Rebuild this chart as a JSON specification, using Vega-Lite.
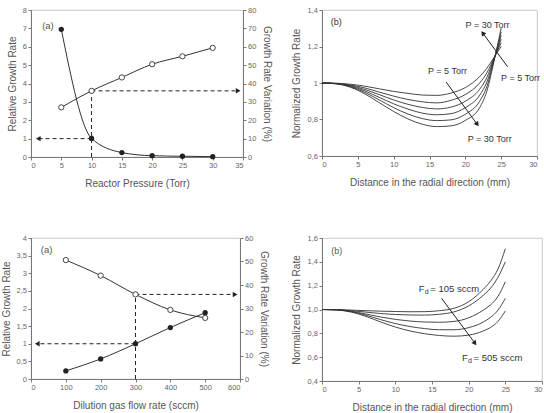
{
  "$schema": "https://vega.github.io/schema/vega-lite/v6.json",
  "background": "white",
  "padding": {"left": 0, "top": 5, "right": 2, "bottom": 2},
  "config": {
    "view": {"stroke": "#bbb", "strokeWidth": 0.8},
    "axis": {"labelFont": "Liberation Sans", "labelFontSize": 7.5, "labelColor": "#666", "titleFont": "Liberation Sans", "titleFontSize": 10, "titleFontWeight": "normal", "titleColor": "#555", "domainColor": "#777", "tickColor": "#777", "tickSize": 3, "grid": false, "labelPadding": 1.5},
    "text": {"font": "Liberation Sans"}
  },
  "datasets": {
    "p1L": [
      {"x": 5, "y": 6.95}, {"x": 10, "y": 1.01}, {"x": 15, "y": 0.24}, {"x": 20, "y": 0.07}, {"x": 25, "y": 0.04}, {"x": 30, "y": 0.02}
    ],
    "p1R": [
      {"x": 5, "y": 27.0}, {"x": 10, "y": 36.0}, {"x": 15, "y": 43.3}, {"x": 20, "y": 50.5}, {"x": 25, "y": 54.8}, {"x": 30, "y": 59.4}
    ],
    "p1dash": [
      {"x": 10, "y": 0, "x2": 10, "y2": 3.6},
      {"x": 10, "y": 3.6, "x2": 34.0, "y2": 3.6},
      {"x": 10, "y": 1, "x2": 1.2, "y2": 1}
    ],
    "p1arrow": [
      {"x": 34.2, "y": 3.6, "dir": "right"},
      {"x": 1.2, "y": 1, "dir": "left"}
    ],
    "p1text": [{"x": 2.8, "y": 7.15, "label": "(a)"}],
    "p3L": [
      {"x": 100, "y": 0.23}, {"x": 200, "y": 0.57}, {"x": 300, "y": 1.0}, {"x": 400, "y": 1.46}, {"x": 500, "y": 1.88}
    ],
    "p3R": [
      {"x": 100, "y": 50.6}, {"x": 200, "y": 44.0}, {"x": 300, "y": 36.0}, {"x": 400, "y": 29.4}, {"x": 500, "y": 26.0}
    ],
    "p3dash": [
      {"x": 300, "y": 0, "x2": 300, "y2": 2.4},
      {"x": 300, "y": 2.4, "x2": 582, "y2": 2.4},
      {"x": 300, "y": 1, "x2": 20, "y2": 1}
    ],
    "p3arrow": [
      {"x": 586, "y": 2.4, "dir": "right"},
      {"x": 18, "y": 1, "dir": "left"}
    ],
    "p3text": [{"x": 45, "y": 3.65, "label": "(a)"}],
    "p2": [
      {"x": 0, "y": 1, "s": "5"}, {"x": 2, "y": 0.9986, "s": "5"}, {"x": 4, "y": 0.993, "s": "5"}, {"x": 6, "y": 0.9825, "s": "5"}, {"x": 8, "y": 0.968, "s": "5"}, {"x": 10, "y": 0.954, "s": "5"}, {"x": 12, "y": 0.943, "s": "5"}, {"x": 14, "y": 0.934, "s": "5"}, {"x": 16, "y": 0.932, "s": "5"}, {"x": 18, "y": 0.945, "s": "5"}, {"x": 20, "y": 0.975, "s": "5"}, {"x": 22, "y": 1.035, "s": "5"}, {"x": 23, "y": 1.08, "s": "5"}, {"x": 24, "y": 1.14, "s": "5"}, {"x": 25, "y": 1.2, "s": "5"},
      {"x": 0, "y": 1, "s": "10"}, {"x": 2, "y": 0.9978, "s": "10"}, {"x": 4, "y": 0.989, "s": "10"}, {"x": 6, "y": 0.9725, "s": "10"}, {"x": 8, "y": 0.95, "s": "10"}, {"x": 10, "y": 0.928, "s": "10"}, {"x": 12, "y": 0.91, "s": "10"}, {"x": 14, "y": 0.897, "s": "10"}, {"x": 16, "y": 0.891, "s": "10"}, {"x": 18, "y": 0.905, "s": "10"}, {"x": 20, "y": 0.937, "s": "10"}, {"x": 22, "y": 1.0, "s": "10"}, {"x": 23, "y": 1.055, "s": "10"}, {"x": 24, "y": 1.136, "s": "10"}, {"x": 25, "y": 1.22, "s": "10"},
      {"x": 0, "y": 1, "s": "15"}, {"x": 2, "y": 0.9971, "s": "15"}, {"x": 4, "y": 0.9857, "s": "15"}, {"x": 6, "y": 0.964, "s": "15"}, {"x": 8, "y": 0.936, "s": "15"}, {"x": 10, "y": 0.907, "s": "15"}, {"x": 12, "y": 0.883, "s": "15"}, {"x": 14, "y": 0.866, "s": "15"}, {"x": 16, "y": 0.858, "s": "15"}, {"x": 18, "y": 0.868, "s": "15"}, {"x": 20, "y": 0.9, "s": "15"}, {"x": 22, "y": 0.966, "s": "15"}, {"x": 23, "y": 1.03, "s": "15"}, {"x": 24, "y": 1.132, "s": "15"}, {"x": 25, "y": 1.24, "s": "15"},
      {"x": 0, "y": 1, "s": "20"}, {"x": 2, "y": 0.9965, "s": "20"}, {"x": 4, "y": 0.9825, "s": "20"}, {"x": 6, "y": 0.956, "s": "20"}, {"x": 8, "y": 0.921, "s": "20"}, {"x": 10, "y": 0.886, "s": "20"}, {"x": 12, "y": 0.857, "s": "20"}, {"x": 14, "y": 0.835, "s": "20"}, {"x": 16, "y": 0.826, "s": "20"}, {"x": 18, "y": 0.832, "s": "20"}, {"x": 20, "y": 0.865, "s": "20"}, {"x": 22, "y": 0.933, "s": "20"}, {"x": 23, "y": 1.005, "s": "20"}, {"x": 24, "y": 1.128, "s": "20"}, {"x": 25, "y": 1.26, "s": "20"},
      {"x": 0, "y": 1, "s": "25"}, {"x": 2, "y": 0.9959, "s": "25"}, {"x": 4, "y": 0.9793, "s": "25"}, {"x": 6, "y": 0.948, "s": "25"}, {"x": 8, "y": 0.907, "s": "25"}, {"x": 10, "y": 0.865, "s": "25"}, {"x": 12, "y": 0.83, "s": "25"}, {"x": 14, "y": 0.805, "s": "25"}, {"x": 16, "y": 0.794, "s": "25"}, {"x": 18, "y": 0.798, "s": "25"}, {"x": 20, "y": 0.829, "s": "25"}, {"x": 22, "y": 0.9, "s": "25"}, {"x": 23, "y": 0.98, "s": "25"}, {"x": 24, "y": 1.124, "s": "25"}, {"x": 25, "y": 1.28, "s": "25"},
      {"x": 0, "y": 1, "s": "30"}, {"x": 2, "y": 0.9952, "s": "30"}, {"x": 4, "y": 0.976, "s": "30"}, {"x": 6, "y": 0.94, "s": "30"}, {"x": 8, "y": 0.892, "s": "30"}, {"x": 10, "y": 0.844, "s": "30"}, {"x": 12, "y": 0.803, "s": "30"}, {"x": 14, "y": 0.774, "s": "30"}, {"x": 16, "y": 0.761, "s": "30"}, {"x": 18, "y": 0.765, "s": "30"}, {"x": 20, "y": 0.795, "s": "30"}, {"x": 22, "y": 0.865, "s": "30"}, {"x": 23, "y": 0.955, "s": "30"}, {"x": 24, "y": 1.12, "s": "30"}, {"x": 25, "y": 1.3, "s": "30"}
    ],
    "p2arrow": [
      {"x": 17.3, "y": 1.006, "x2": 21.6, "y2": 0.777},
      {"x": 25.9, "y": 1.089, "x2": 22.5, "y2": 1.27}
    ],
    "p2headA": [{"x": 21.6, "y": 0.777}],
    "p2headB": [{"x": 22.5, "y": 1.27}],
    "p2text": [
      {"x": 2.0, "y": 1.333, "label": "(b)"},
      {"x": 23.1, "y": 1.317, "label": "P = 30 Torr"},
      {"x": 27.7, "y": 1.028, "label": "P = 5 Torr"},
      {"x": 17.5, "y": 1.067, "label": "P = 5 Torr"},
      {"x": 23.4, "y": 0.694, "label": "P = 30 Torr"}
    ],
    "p4": [
      {"x": 0, "y": 1.0, "s": "105"}, {"x": 2, "y": 0.999, "s": "105"}, {"x": 4, "y": 0.995, "s": "105"}, {"x": 6, "y": 0.99, "s": "105"}, {"x": 8, "y": 0.986, "s": "105"}, {"x": 10, "y": 0.983, "s": "105"}, {"x": 12, "y": 0.981, "s": "105"}, {"x": 14, "y": 0.982, "s": "105"}, {"x": 16, "y": 0.99, "s": "105"}, {"x": 18, "y": 1.01, "s": "105"}, {"x": 20, "y": 1.065, "s": "105"}, {"x": 22, "y": 1.17, "s": "105"}, {"x": 23, "y": 1.24, "s": "105"}, {"x": 24, "y": 1.34, "s": "105"}, {"x": 25, "y": 1.51, "s": "105"},
      {"x": 0, "y": 1.0, "s": "205"}, {"x": 2, "y": 0.998, "s": "205"}, {"x": 4, "y": 0.99, "s": "205"}, {"x": 6, "y": 0.978, "s": "205"}, {"x": 8, "y": 0.966, "s": "205"}, {"x": 10, "y": 0.958, "s": "205"}, {"x": 12, "y": 0.954, "s": "205"}, {"x": 14, "y": 0.953, "s": "205"}, {"x": 16, "y": 0.96, "s": "205"}, {"x": 18, "y": 0.98, "s": "205"}, {"x": 20, "y": 1.03, "s": "205"}, {"x": 22, "y": 1.12, "s": "205"}, {"x": 23, "y": 1.18, "s": "205"}, {"x": 24, "y": 1.27, "s": "205"}, {"x": 25, "y": 1.4, "s": "205"},
      {"x": 0, "y": 1.0, "s": "305"}, {"x": 2, "y": 0.998, "s": "305"}, {"x": 4, "y": 0.985, "s": "305"}, {"x": 6, "y": 0.962, "s": "305"}, {"x": 8, "y": 0.937, "s": "305"}, {"x": 10, "y": 0.917, "s": "305"}, {"x": 12, "y": 0.903, "s": "305"}, {"x": 14, "y": 0.895, "s": "305"}, {"x": 16, "y": 0.893, "s": "305"}, {"x": 18, "y": 0.9, "s": "305"}, {"x": 20, "y": 0.93, "s": "305"}, {"x": 22, "y": 0.995, "s": "305"}, {"x": 23, "y": 1.04, "s": "305"}, {"x": 24, "y": 1.11, "s": "305"}, {"x": 25, "y": 1.233, "s": "305"},
      {"x": 0, "y": 1.0, "s": "405"}, {"x": 2, "y": 0.997, "s": "405"}, {"x": 4, "y": 0.982, "s": "405"}, {"x": 6, "y": 0.952, "s": "405"}, {"x": 8, "y": 0.915, "s": "405"}, {"x": 10, "y": 0.882, "s": "405"}, {"x": 12, "y": 0.857, "s": "405"}, {"x": 14, "y": 0.84, "s": "405"}, {"x": 16, "y": 0.83, "s": "405"}, {"x": 18, "y": 0.83, "s": "405"}, {"x": 20, "y": 0.848, "s": "405"}, {"x": 22, "y": 0.895, "s": "405"}, {"x": 23, "y": 0.935, "s": "405"}, {"x": 24, "y": 0.995, "s": "405"}, {"x": 25, "y": 1.094, "s": "405"},
      {"x": 0, "y": 1.0, "s": "505"}, {"x": 2, "y": 0.996, "s": "505"}, {"x": 4, "y": 0.978, "s": "505"}, {"x": 6, "y": 0.942, "s": "505"}, {"x": 8, "y": 0.895, "s": "505"}, {"x": 10, "y": 0.853, "s": "505"}, {"x": 12, "y": 0.82, "s": "505"}, {"x": 14, "y": 0.797, "s": "505"}, {"x": 16, "y": 0.782, "s": "505"}, {"x": 18, "y": 0.776, "s": "505"}, {"x": 20, "y": 0.785, "s": "505"}, {"x": 22, "y": 0.82, "s": "505"}, {"x": 23, "y": 0.85, "s": "505"}, {"x": 24, "y": 0.9, "s": "505"}, {"x": 25, "y": 0.988, "s": "505"}
    ],
    "p4arrow": [{"x": 16.3, "y": 1.094, "x2": 20.8, "y2": 0.722}],
    "p4head": [{"x": 20.8, "y": 0.722}],
    "p4text": [{"x": 2.0, "y": 1.49, "label": "(b)"}],
    "p4fd": [
      {"x": 13.2, "y": 1.17, "F": "F", "sub": "d", "rest": "= 105 sccm"},
      {"x": 19.1, "y": 0.591, "F": "F", "sub": "d", "rest": "= 505 sccm"}
    ]
  },
  "columns": 2,
  "bounds": "flush",
  "align": {"row": "each", "column": "none"},
  "spacing": {"row": 81, "column": 79},
  "concat": [
    {
      "width": 212, "height": 147,
      "layer": [
        {
          "encoding": {
            "x": {"field": "x", "type": "quantitative", "scale": {"domain": [0, 35]}, "axis": {"values": [0, 5, 10, 15, 20, 25, 30, 35], "labelOverlap": false, "title": "Reactor Pressure (Torr)", "titlePadding": 9}},
            "y": {"field": "y", "type": "quantitative", "scale": {"domain": [0, 8]}, "axis": {"values": [0, 1, 2, 3, 4, 5, 6, 7, 8], "labelOverlap": false, "title": "Relative Growth Rate", "titlePadding": 5}}
          },
          "layer": [
            {"data": {"name": "p1dash"}, "mark": {"type": "rule", "strokeDash": [4, 3], "color": "#222", "strokeWidth": 1}, "encoding": {"x2": {"field": "x2"}, "y2": {"field": "y2"}}},
            {"data": {"name": "p1L"}, "mark": {"type": "line", "interpolate": "monotone", "color": "#333", "strokeWidth": 1}, "encoding": {}},
            {"data": {"name": "p1L"}, "mark": {"type": "point", "filled": true, "color": "#222", "size": 28, "opacity": 1}, "encoding": {}},
            {"data": {"name": "p1arrow"}, "mark": {"type": "point", "filled": true, "color": "#222", "size": 30, "opacity": 1},
             "encoding": {"shape": {"field": "dir", "type": "nominal", "scale": {"domain": ["right", "left"], "range": ["triangle-right", "triangle-left"]}, "legend": null}}},
            {"data": {"name": "p1text"}, "mark": {"type": "text", "fontSize": 9.5, "color": "#555"}, "encoding": {"text": {"field": "label"}}}
          ]
        },
        {
          "encoding": {
            "x": {"field": "x", "type": "quantitative", "scale": {"domain": [0, 35]}, "axis": {"values": [0, 5, 10, 15, 20, 25, 30, 35], "labelOverlap": false, "title": "Reactor Pressure (Torr)", "titlePadding": 9}},
            "y": {"field": "y", "type": "quantitative", "scale": {"domain": [0, 80]}, "axis": {"orient": "right", "values": [0, 10, 20, 30, 40, 50, 60, 70, 80], "labelOverlap": false, "title": "Growth Rate Variation (%)", "titleAngle": 90, "titlePadding": 6}}
          },
          "layer": [
            {"data": {"name": "p1R"}, "mark": {"type": "line", "interpolate": "monotone", "color": "#333", "strokeWidth": 1}, "encoding": {}},
            {"data": {"name": "p1R"}, "mark": {"type": "point", "filled": true, "fill": "white", "stroke": "#444", "strokeWidth": 1, "size": 28, "opacity": 1}, "encoding": {}}
          ]
        }
      ],
      "resolve": {"scale": {"y": "independent"}}
    },
    {
      "width": 215, "height": 146,
      "encoding": {
        "x": {"field": "x", "type": "quantitative", "scale": {"domain": [0, 30]}, "axis": {"values": [0, 5, 10, 15, 20, 25, 30], "labelOverlap": false, "title": "Distance in the radial direction (mm)", "titlePadding": 9}},
        "y": {"field": "y", "type": "quantitative", "scale": {"domain": [0.6, 1.4]}, "axis": {"values": [0.6, 0.8, 1.0, 1.2, 1.4], "labelOverlap": false, "format": ".1~f", "labelExpr": "replace(datum.label, '.', ',')", "title": "Normalized Growth Rate", "titlePadding": 6}}
      },
      "layer": [
        {"data": {"name": "p2"}, "mark": {"type": "line", "interpolate": "monotone", "color": "#333", "strokeWidth": 0.9}, "encoding": {"detail": {"field": "s", "type": "nominal"}}},
        {"data": {"name": "p2arrow"}, "mark": {"type": "rule", "color": "#222", "strokeWidth": 1}, "encoding": {"x2": {"field": "x2"}, "y2": {"field": "y2"}}},
        {"data": {"name": "p2headA"}, "mark": {"type": "point", "shape": "triangle", "angle": 144, "filled": true, "color": "#222", "size": 30, "opacity": 1}, "encoding": {}},
        {"data": {"name": "p2headB"}, "mark": {"type": "point", "shape": "triangle", "angle": 323, "filled": true, "color": "#222", "size": 30, "opacity": 1}, "encoding": {}},
        {"data": {"name": "p2text"}, "mark": {"type": "text", "fontSize": 9, "color": "#333"}, "encoding": {"text": {"field": "label"}}}
      ]
    },
    {
      "width": 209, "height": 141,
      "layer": [
        {
          "encoding": {
            "x": {"field": "x", "type": "quantitative", "scale": {"domain": [0, 600]}, "axis": {"values": [0, 100, 200, 300, 400, 500, 600], "labelOverlap": false, "title": "Dilution gas flow rate (sccm)", "titlePadding": 9}},
            "y": {"field": "y", "type": "quantitative", "scale": {"domain": [0, 4]}, "axis": {"values": [0, 0.5, 1, 1.5, 2, 2.5, 3, 3.5, 4], "labelOverlap": false, "format": ".1~f", "labelExpr": "replace(datum.label, '.', ',')", "title": "Relative Growth Rate", "titlePadding": 5}}
          },
          "layer": [
            {"data": {"name": "p3dash"}, "mark": {"type": "rule", "strokeDash": [4, 3], "color": "#222", "strokeWidth": 1}, "encoding": {"x2": {"field": "x2"}, "y2": {"field": "y2"}}},
            {"data": {"name": "p3L"}, "mark": {"type": "line", "interpolate": "monotone", "color": "#333", "strokeWidth": 1}, "encoding": {}},
            {"data": {"name": "p3L"}, "mark": {"type": "point", "filled": true, "color": "#222", "size": 28, "opacity": 1}, "encoding": {}},
            {"data": {"name": "p3arrow"}, "mark": {"type": "point", "filled": true, "color": "#222", "size": 30, "opacity": 1},
             "encoding": {"shape": {"field": "dir", "type": "nominal", "scale": {"domain": ["right", "left"], "range": ["triangle-right", "triangle-left"]}, "legend": null}}},
            {"data": {"name": "p3text"}, "mark": {"type": "text", "fontSize": 9.5, "color": "#555"}, "encoding": {"text": {"field": "label"}}}
          ]
        },
        {
          "encoding": {
            "x": {"field": "x", "type": "quantitative", "scale": {"domain": [0, 600]}, "axis": {"values": [0, 100, 200, 300, 400, 500, 600], "labelOverlap": false, "title": "Dilution gas flow rate (sccm)", "titlePadding": 9}},
            "y": {"field": "y", "type": "quantitative", "scale": {"domain": [0, 60]}, "axis": {"orient": "right", "values": [0, 10, 20, 30, 40, 50, 60], "labelOverlap": false, "title": "Growth Rate Variation (%)", "titleAngle": 90, "titlePadding": 6}}
          },
          "layer": [
            {"data": {"name": "p3R"}, "mark": {"type": "line", "interpolate": "monotone", "color": "#333", "strokeWidth": 1}, "encoding": {}},
            {"data": {"name": "p3R"}, "mark": {"type": "point", "filled": true, "fill": "white", "stroke": "#444", "strokeWidth": 1, "size": 28, "opacity": 1}, "encoding": {}}
          ]
        }
      ],
      "resolve": {"scale": {"y": "independent"}}
    },
    {
      "width": 220, "height": 143,
      "encoding": {
        "x": {"field": "x", "type": "quantitative", "scale": {"domain": [0, 30]}, "axis": {"values": [0, 5, 10, 15, 20, 25, 30], "labelOverlap": false, "title": "Distance in the radial direction (mm)", "titlePadding": 9}},
        "y": {"field": "y", "type": "quantitative", "scale": {"domain": [0.4, 1.6]}, "axis": {"values": [0.4, 0.6, 0.8, 1.0, 1.2, 1.4, 1.6], "labelOverlap": false, "format": ".1f", "labelExpr": "replace(datum.label, '.', ',')", "title": "Normalized Growth Rate", "titlePadding": 6}}
      },
      "layer": [
        {"data": {"name": "p4"}, "mark": {"type": "line", "interpolate": "monotone", "color": "#333", "strokeWidth": 0.9}, "encoding": {"detail": {"field": "s", "type": "nominal"}}},
        {"data": {"name": "p4arrow"}, "mark": {"type": "rule", "color": "#222", "strokeWidth": 1}, "encoding": {"x2": {"field": "x2"}, "y2": {"field": "y2"}}},
        {"data": {"name": "p4head"}, "mark": {"type": "point", "shape": "triangle", "angle": 144, "filled": true, "color": "#222", "size": 30, "opacity": 1}, "encoding": {}},
        {"data": {"name": "p4text"}, "mark": {"type": "text", "fontSize": 9, "color": "#555"}, "encoding": {"text": {"field": "label"}}},
        {"data": {"name": "p4fd"}, "mark": {"type": "text", "fontSize": 9.5, "color": "#333", "align": "left"}, "encoding": {"text": {"field": "F"}}},
        {"data": {"name": "p4fd"}, "mark": {"type": "text", "fontSize": 7, "color": "#333", "align": "left", "dx": 6, "dy": 3}, "encoding": {"text": {"field": "sub"}}},
        {"data": {"name": "p4fd"}, "mark": {"type": "text", "fontSize": 9.5, "color": "#333", "align": "left", "dx": 11.5}, "encoding": {"text": {"field": "rest"}}}
      ]
    }
  ]
}
